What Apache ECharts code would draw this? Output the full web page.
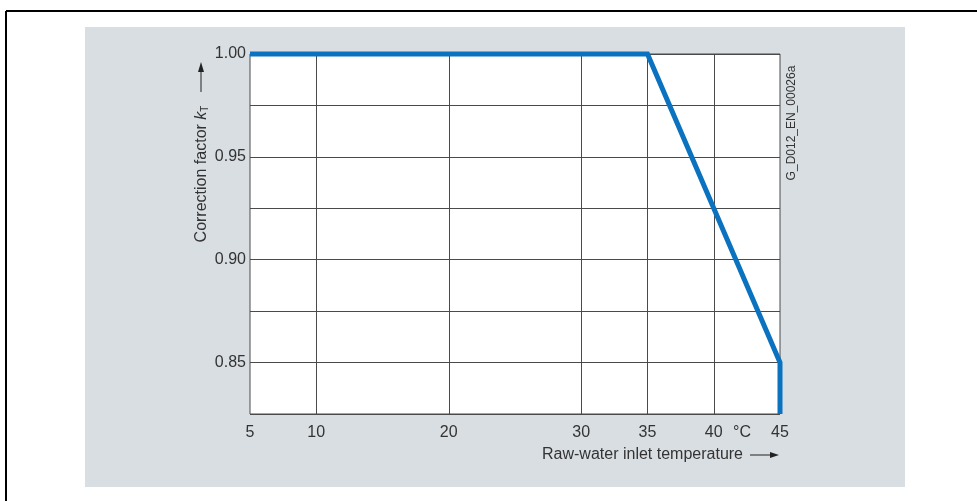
<!DOCTYPE html>
<html><head><meta charset="utf-8">
<script src="https://cdn.jsdelivr.net/npm/echarts@6/dist/echarts.min.js"></script>
<style>html,body{margin:0;padding:0;background:#fff}#c{width:977px;height:501px}</style>
</head><body><div id="c"></div>
<script>
// Data
const curveX = [5, 35, 45, 45];
const curveY = [1.00, 1.00, 0.85, 0.825];
const xTickLabels = [5, 10, 20, 30, 35, 40, 45];
const xGridLines = [10, 20, 30, 35, 40];
const yTickLabels = [0.85, 0.90, 0.95, 1.00];
const xName = 'Raw-water inlet temperature';
const yName = 'Correction factor ';
const unitLabel = '°C';
const docId = 'G_D012_EN_00026a';

const FONT = '"Liberation Sans", Arial, sans-serif';
const GRID = '#4a4a4a';
const TXT = '#333';

const chart = echarts.init(document.getElementById('c'), null, {renderer: 'canvas'});
const option = {
  backgroundColor: '#fff',
  animation: false,
  grid: {left: 250, right: 197, top: 54, bottom: 87, show: true, backgroundColor: '#fff', borderColor: GRID, borderWidth: 1},
  xAxis: {
    type: 'value', min: 5, max: 45, interval: 5,
    axisLine: {show: false}, axisTick: {show: false}, splitLine: {show: false},
    axisLabel: {customValues: xTickLabels, color: TXT, fontSize: 16, fontFamily: FONT, margin: 11}
  },
  yAxis: {
    type: 'value', min: 0.825, max: 1.0, interval: 0.025,
    axisLine: {show: false}, axisTick: {show: false},
    splitLine: {show: true, lineStyle: {color: GRID, width: 1}},
    axisLabel: {
      color: TXT, fontSize: 16, fontFamily: FONT, margin: 4,
      formatter: v => yTickLabels.some(t => Math.abs(t - v) < 1e-6) ? v.toFixed(2) : ''
    }
  },
  series: [
    {
      type: 'line', data: [], silent: true,
      markLine: {
        silent: true, symbol: ['none', 'none'], label: {show: false},
        lineStyle: {color: GRID, width: 1, type: 'solid'},
        data: xGridLines.map(v => ({xAxis: v}))
      }
    },
    {
      type: 'line', clip: false, showSymbol: false, symbol: 'none', z: 5,
      lineStyle: {color: '#0a72bf', width: 5, join: 'miter', cap: 'butt'},
      data: curveX.map((x, i) => [x, curveY[i]])
    }
  ],
  graphic: [
    {type: 'rect', z: -10, shape: {x: 85, y: 27, width: 820, height: 460}, style: {fill: '#d9dee2'}},
    {type: 'line', z: 10, shape: {x1: 6, y1: 11, x2: 977, y2: 11}, style: {stroke: '#000', lineWidth: 2}},
    {type: 'line', z: 10, shape: {x1: 6, y1: 11, x2: 6, y2: 501}, style: {stroke: '#000', lineWidth: 2}},
    {type: 'text', z: 10, x: 742, y: 433, style: {text: unitLabel, fill: TXT, font: '16px ' + FONT, align: 'center', verticalAlign: 'middle'}},
    {type: 'text', z: 10, x: 743, y: 455, style: {text: xName, fill: TXT, font: '16px ' + FONT, align: 'right', verticalAlign: 'middle'}},
    {type: 'line', z: 10, shape: {x1: 750, y1: 455, x2: 772, y2: 455}, style: {stroke: '#222', lineWidth: 1}},
    {type: 'polygon', z: 10, shape: {points: [[770, 452], [779, 455], [770, 458]]}, style: {fill: '#222'}},
    {type: 'text', z: 10, x: 202, y: 174, rotation: Math.PI / 2,
      style: {
        text: yName + '{k|k}{s|T}', fill: TXT, font: '16px ' + FONT, align: 'center', verticalAlign: 'middle',
        rich: {
          k: {fontStyle: 'italic', fontSize: 16, fontFamily: FONT, fill: TXT, verticalAlign: 'bottom'},
          s: {fontSize: 10, fontFamily: FONT, fill: TXT, verticalAlign: 'bottom'}
        }
      }
    },
    {type: 'line', z: 10, shape: {x1: 201, y1: 92, x2: 201, y2: 70}, style: {stroke: '#222', lineWidth: 1}},
    {type: 'polygon', z: 10, shape: {points: [[198, 72], [201, 62], [204, 72]]}, style: {fill: '#222'}},
    {type: 'text', z: 10, x: 792, y: 123, rotation: Math.PI / 2,
      style: {text: docId, fill: TXT, font: '12px ' + FONT, align: 'center', verticalAlign: 'middle'}}
  ]
};
chart.setOption(option);
</script>
</body></html>
